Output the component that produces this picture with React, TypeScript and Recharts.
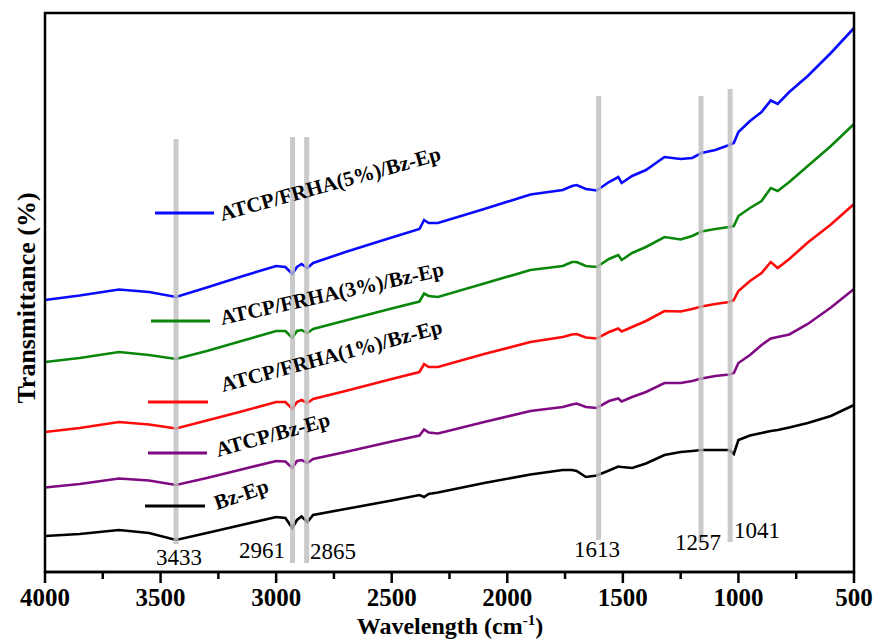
import { LineChart, Line, XAxis, YAxis, ReferenceLine } from 'recharts';

// wavenumber grid (cm-1)
const wavenumbers = [
  4000, 3850, 3680, 3550, 3433, 3300, 3150, 3000, 2960, 2930, 2910, 2890, 2865, 2840, 2700, 2500,
  2380, 2360, 2340, 2300, 2100, 1900, 1760, 1720, 1700, 1660, 1613, 1560, 1520, 1505, 1460, 1400,
  1320, 1250, 1200, 1160, 1100, 1040, 1020, 1000, 950, 900, 860, 830, 780, 700, 600, 500,
];

// stacked transmittance traces (arbitrary offset units)
const frha5 = [
  54.4, 55.3, 56.5, 56.0, 55.0, 56.9, 59.1, 61.2, 61.0, 59.6, 61.0, 61.6, 60.8, 61.8, 64.0, 66.9,
  68.6, 70.4, 69.8, 69.8, 72.6, 75.5, 76.4, 77.2, 77.4, 76.6, 76.3, 78.0, 79.0, 77.8, 79.2, 80.4,
  83.0, 82.6, 82.8, 83.8, 84.4, 85.4, 85.8, 88.0, 90.2, 92.0, 94.3, 93.6, 96.0, 99.2, 103.8, 108.8,
];
const frha3 = [
  42.0, 42.8, 44.0, 43.4, 42.6, 44.2, 46.2, 48.2, 48.2, 46.8, 48.2, 48.4, 47.8, 48.6, 50.3, 52.7,
  54.1, 55.7, 55.2, 55.0, 57.7, 60.4, 61.2, 62.0, 62.0, 61.2, 61.0, 62.6, 63.4, 62.4, 63.8, 65.0,
  67.0, 66.5, 67.2, 68.1, 68.6, 69.0, 69.2, 71.2, 72.8, 74.2, 76.8, 76.2, 78.0, 81.2, 85.2, 89.6,
];
const frha1 = [
  28.0, 28.8, 30.0, 29.5, 28.7, 30.3, 32.1, 34.0, 34.0, 32.6, 34.0, 34.4, 33.8, 34.6, 36.2, 38.6,
  40.0, 41.6, 41.0, 41.0, 43.6, 46.0, 47.0, 47.5, 47.6, 46.9, 46.7, 48.0, 48.7, 48.1, 49.0, 50.2,
  52.2, 52.1, 52.6, 53.1, 53.6, 54.0, 54.4, 56.2, 58.2, 59.8, 62.0, 60.8, 62.6, 65.9, 69.5, 73.6,
];
const atcpBzEp = [
  16.9, 17.6, 18.7, 18.3, 17.4, 18.8, 20.5, 22.2, 22.1, 20.8, 22.2, 22.4, 21.8, 22.6, 24.0, 26.1,
  27.3, 28.5, 27.9, 27.7, 30.0, 32.2, 33.0, 33.5, 33.7, 33.0, 32.8, 34.2, 34.7, 34.1, 35.0, 36.0,
  37.8, 37.8, 38.2, 38.7, 39.2, 39.5, 39.8, 41.8, 43.4, 45.4, 46.7, 47.0, 47.5, 49.6, 52.9, 56.6,
];
const bzEp = [
  7.2, 7.6, 8.4, 7.8, 6.4, 7.8, 9.4, 11.0, 10.8, 8.8, 10.4, 11.1, 10.0, 11.4, 12.6, 14.3,
  15.4, 15.0, 15.6, 15.9, 17.8, 19.5, 20.4, 20.4, 20.2, 19.0, 19.3, 20.3, 21.1, 21.0, 20.8, 21.7,
  23.4, 24.0, 24.2, 24.4, 24.4, 24.4, 23.6, 26.4, 27.3, 27.8, 28.2, 28.4, 28.9, 29.8, 31.2, 33.4,
];

const seriesNames = ['ATCP/FRHA(5%)/Bz-Ep', 'ATCP/FRHA(3%)/Bz-Ep', 'ATCP/FRHA(1%)/Bz-Ep', 'ATCP/Bz-Ep', 'Bz-Ep'];
const seriesKeys = ['frha5', 'frha3', 'frha1', 'atcp', 'bzep'];
const seriesColors = ['#0a0aff', '#0a870a', '#ff0a0a', '#7f0a82', '#000000'];

// grey marker bands (where they sit on the axis) and their labels
const bandWavenumbers = [3433, 2929, 2868, 1605, 1162, 1036];
const bandTops = [86.6, 87.0, 87.0, 95.2, 95.2, 96.6];
const bandBottoms = [5.6, 1.8, 1.8, 6.4, 5.8, 6.0];
const peakLabels = ['3433', '2961', '2865', '1613', '1257', '1041'];

const xTicks = [4000, 3750, 3500, 3250, 3000, 2750, 2500, 2250, 2000, 1750, 1500, 1250, 1000, 750, 500];

const data = wavenumbers.map((w, i) => ({
  w,
  frha5: frha5[i],
  frha3: frha3[i],
  frha1: frha1[i],
  atcp: atcpBzEp[i],
  bzep: bzEp[i],
}));

const FONT = "'Liberation Serif', 'Times New Roman', serif";

const WaveTick = (props: any) => {
  const { x, y, payload } = props;
  const major = payload.value % 500 === 0;
  return (
    <g>
      <line x1={x} x2={x} y1={y} y2={y + (major ? 11 : 7)} stroke="#000" strokeWidth={2.5} />
      {major && (
        <text x={x} y={y + 34} textAnchor="middle" fontFamily={FONT} fontWeight="bold" fontSize={25} fill="#000">
          {payload.value}
        </text>
      )}
    </g>
  );
};

// legend / annotation placement in the overlay
const legendPos = [
  { x1: 155, x2: 214, y: 213, tx: 222, ty: 221, rot: -15.5 },
  { x1: 151, x2: 210, y: 321, tx: 222, ty: 325, rot: -12.5 },
  { x1: 148, x2: 208, y: 402, tx: 223, ty: 392, rot: -15 },
  { x1: 148, x2: 207, y: 453, tx: 218, ty: 457, rot: -15.5 },
  { x1: 145, x2: 205, y: 506, tx: 217, ty: 510, rot: -19 },
];
const peakLabelPos = [
  { x: 179, y: 565 },
  { x: 262, y: 558 },
  { x: 333, y: 559 },
  { x: 597, y: 557 },
  { x: 698, y: 550 },
  { x: 757, y: 538 },
];

export default function App() {
  return (
    <div style={{ position: 'absolute', left: 0, top: 0, width: 876, height: 640, background: '#fff' }}>
      <LineChart
        width={876}
        height={640}
        data={data}
        margin={{ top: 13, right: 22, bottom: 0, left: 45 }}
      >
        <XAxis
          dataKey="w"
          type="number"
          domain={[500, 4000]}
          reversed
          ticks={xTicks}
          interval={0}
          height={68}
          tickSize={0}
          tickMargin={0}
          tickLine={false}
          tick={<WaveTick />}
          axisLine={{ stroke: '#000', strokeWidth: 2.5 }}
        />
        <YAxis hide domain={[0, 111.8]} />
        {seriesKeys.map((k, i) => (
          <Line
            key={k}
            type="linear"
            dataKey={k}
            name={seriesNames[i]}
            stroke={seriesColors[i]}
            strokeWidth={2.6}
            dot={false}
            isAnimationActive={false}
          />
        ))}
        {bandWavenumbers.map((w, i) => (
          <ReferenceLine
            key={'band' + i}
            segment={[{ x: w, y: bandBottoms[i] }, { x: w, y: bandTops[i] }]}
            stroke="#bdbdbd"
            strokeOpacity={0.8}
            strokeWidth={5}
          />
        ))}
      </LineChart>

      {/* frame, legend and text overlay */}
      <svg
        width={876}
        height={640}
        style={{ position: 'absolute', left: 0, top: 0, pointerEvents: 'none' }}
      >
        <rect x={45} y={13} width={809} height={559} fill="none" stroke="#000" strokeWidth={2.5} />
        {seriesNames.map((name, i) => {
          const p = legendPos[i];
          return (
            <g key={name}>
              <line x1={p.x1} x2={p.x2} y1={p.y} y2={p.y} stroke={seriesColors[i]} strokeWidth={3} />
              <text
                x={p.tx}
                y={p.ty}
                transform={`rotate(${p.rot} ${p.tx} ${p.ty})`}
                fontFamily={FONT}
                fontWeight="bold"
                fontSize={21}
                fill="#000"
              >
                {name}
              </text>
            </g>
          );
        })}
        {peakLabels.map((t, i) => (
          <text
            key={t}
            x={peakLabelPos[i].x}
            y={peakLabelPos[i].y}
            textAnchor="middle"
            fontFamily={FONT}
            fontSize={23}
            fill="#000"
          >
            {t}
          </text>
        ))}
        <text
          x={35}
          y={298}
          transform="rotate(-90 35 298)"
          textAnchor="middle"
          fontFamily={FONT}
          fontWeight="bold"
          fontSize={26}
          fill="#000"
        >
          Transmittance (%)
        </text>
        <text x={450} y={634} textAnchor="middle" fontFamily={FONT} fontWeight="bold" fontSize={24} fill="#000">
          Wavelength (cm
          <tspan dy={-9} fontSize={15}>-1</tspan>
          <tspan dy={9}>)</tspan>
        </text>
      </svg>
    </div>
  );
}
